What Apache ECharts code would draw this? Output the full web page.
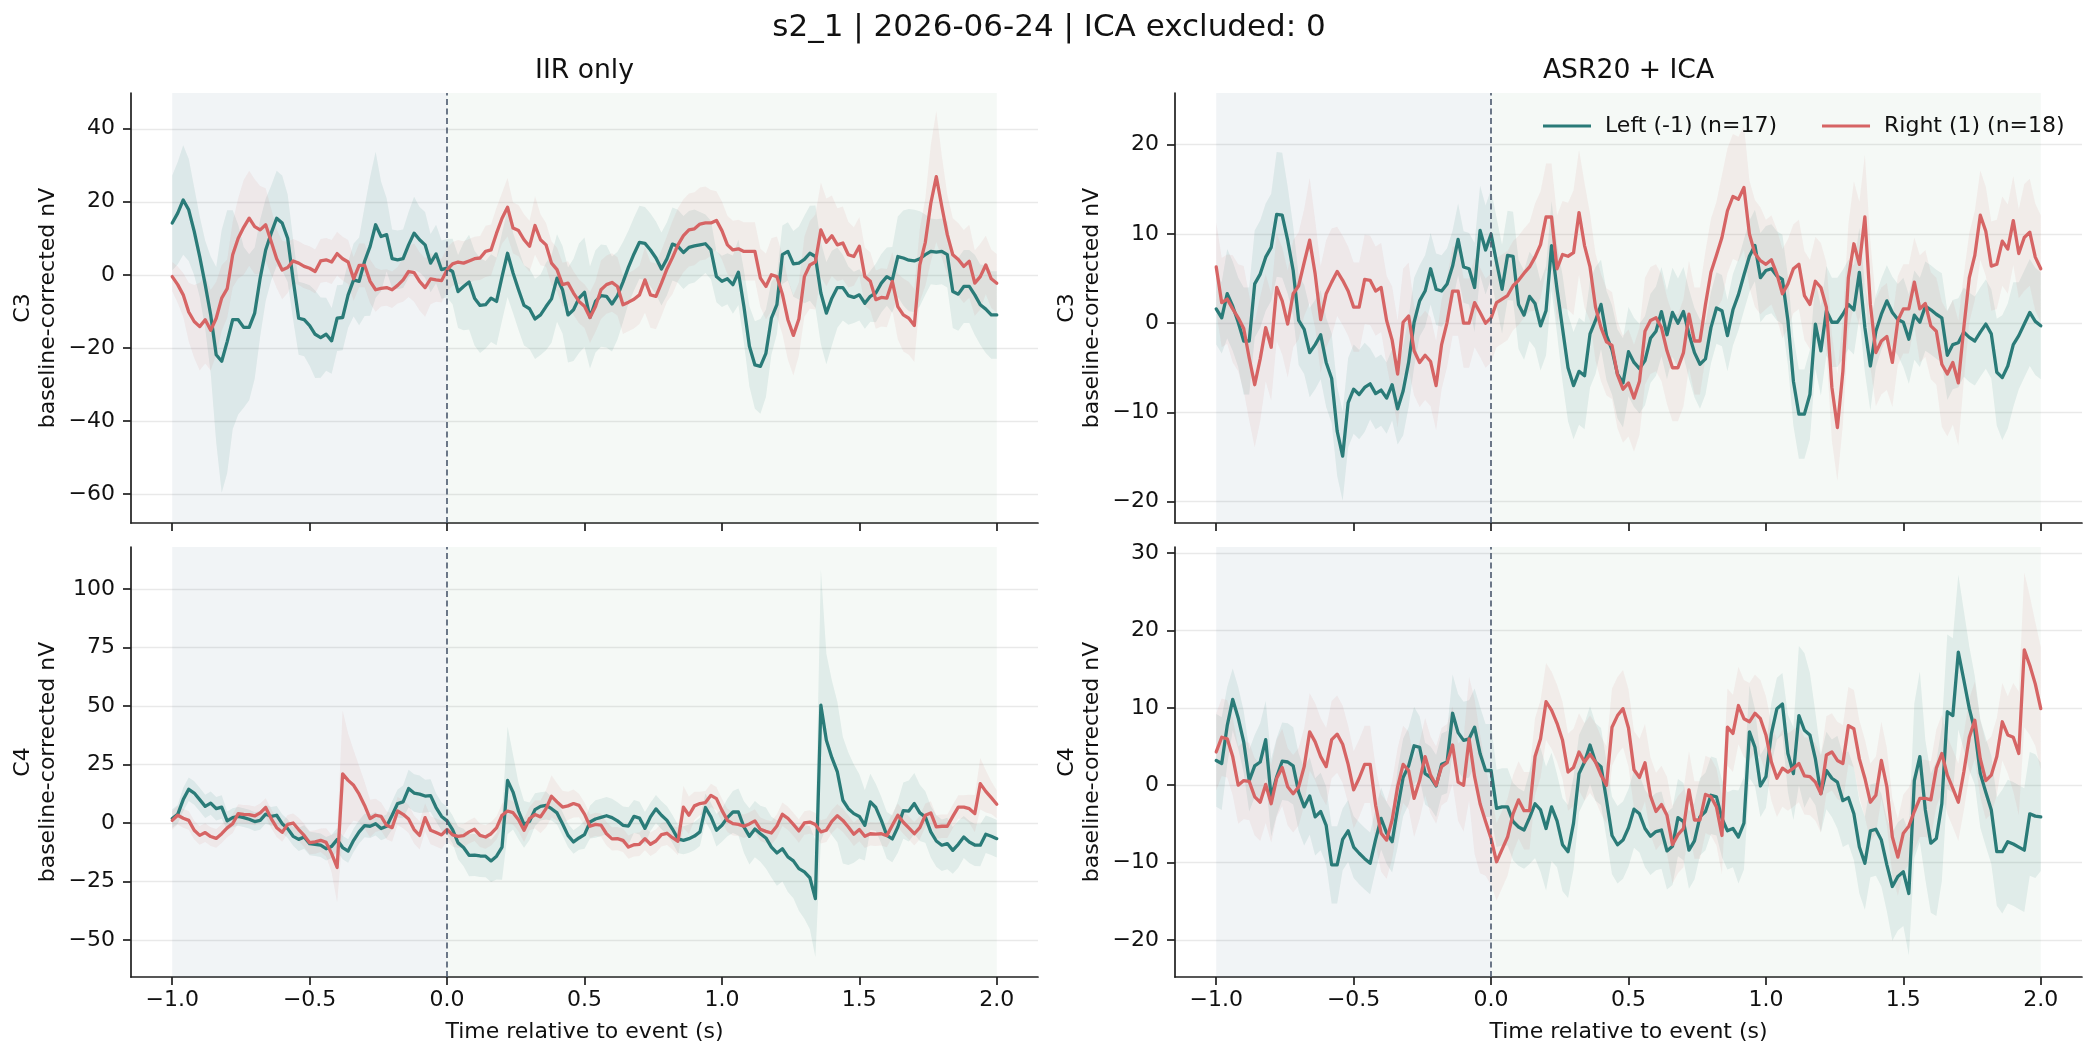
<!DOCTYPE html>
<html lang="en">
<head>
  <meta charset="UTF-8" />
  <title>s2_1 | 2026-06-24 | ICA excluded: 0</title>
  <script src="https://cdn.jsdelivr.net/npm/echarts@6.0.0/dist/echarts.min.js"></script>
  <style>
    html, body { margin: 0; padding: 0; background: #ffffff; }
    #main { width: 2098px; height: 1058px; }
  </style>
</head>
<body>
<div id="main"></div>
<script>
// sample times, -1.0 .. 2.0 s every 20 ms
const times = Array.from({ length: 151 }, (_, i) => Math.round((-1 + i * 0.02) * 100) / 100);

const xTicks = [-1, -0.5, 0, 0.5, 1, 1.5, 2];
const yTicksIirC3 = [-60, -40, -20, 0, 20, 40];
const yTicksAsrC3 = [-20, -10, 0, 10, 20];
const yTicksIirC4 = [-50, -25, 0, 25, 50, 75, 100];
const yTicksAsrC4 = [-20, -10, 0, 10, 20, 30];

// IIR only, C3
const iirC3Left = [
  14.2, 16.9, 20.5, 17.8, 11.9, 5.0, -2.7, -11.0, -21.9, -23.7,
  -18.3, -12.3, -12.3, -14.4, -14.4, -10.5, -0.9, 6.8, 11.4, 15.5,
  14.2, 10.0, -1.4, -11.9, -12.3, -13.9, -16.3, -17.2, -16.3, -18.1,
  -11.9, -11.7, -5.5, -1.4, -1.8, 3.7, 7.8, 13.7, 10.5, 11.0,
  4.4, 4.1, 4.4, 8.2, 11.4, 9.6, 8.2, 3.2, 5.7, 1.4,
  1.8, 0.9, -4.6, -3.2, -2.0, -6.4, -8.4, -8.2, -6.4, -7.3,
  -0.5, 5.9, 0.5, -4.1, -8.4, -9.3, -12.1, -11.0, -8.7, -6.6,
  -0.9, -4.1, -11.0, -9.6, -6.4, -4.8, -11.7, -7.3, -5.7, -5.9,
  -8.0, -5.7, -2.0, 2.1, 5.7, 8.9, 8.6, 6.8, 4.6, 1.6,
  4.4, 8.4, 7.8, 6.1, 7.5, 7.9, 8.2, 8.5, 6.8, -0.5,
  -1.8, -1.1, -2.7, 0.7, -8.7, -19.6, -24.7, -25.1, -21.5, -11.9,
  -8.2, 5.5, 6.4, 3.0, 3.2, 4.2, 5.9, 5.0, -5.0, -10.5,
  -6.4, -3.5, -3.5, -5.7, -6.2, -5.5, -7.8, -5.9, -5.0, -2.3,
  -0.5, -1.4, 5.0, 4.6, 4.0, 3.8, 4.4, 5.5, 6.4, 6.2,
  6.4, 5.5, -4.6, -5.3, -3.2, -3.2, -5.5, -8.2, -9.4, -11.0,
  -11.0
];
const iirC3LeftSem = [
  13, 14, 15, 14, 12, 11, 12, 16, 24, 36, 36, 30, 26, 22, 20, 18, 16, 14, 13, 13,
  13, 12, 11, 10, 10, 11, 12, 11, 10, 9, 9, 9, 9, 10, 12, 15, 19, 20, 15, 10,
  8, 8, 8, 9, 10, 9, 9, 8, 8, 8, 8, 9, 10, 12, 13, 13, 13, 12, 12, 12,
  12, 12, 11, 11, 11, 11, 11, 11, 12, 12, 12, 12, 13, 14, 15, 15, 14, 14, 14, 14,
  13, 12, 11, 10, 10, 10, 10, 10, 10, 10, 10, 10, 10, 10, 10, 10, 9, 8, 8, 7,
  7, 7, 8, 9, 10, 11, 12, 13, 12, 10, 8, 8, 8, 9, 10, 12, 13, 14, 14, 14,
  13, 11, 9, 8, 7, 7, 7, 7, 8, 8, 8, 9, 11, 13, 14, 14, 13, 11, 9, 9,
  9, 9, 10, 10, 10, 10, 11, 11, 12, 12, 12
];
const iirC3Right = [
  -0.5, -2.7, -5.5, -10.2, -12.8, -14.2, -12.3, -15.2, -11.9, -6.4,
  -3.8, 5.5, 10.0, 13.0, 15.5, 13.2, 12.3, 13.7, 9.1, 4.4,
  1.3, 2.0, 3.8, 3.2, 2.3, 1.8, 0.9, 3.8, 4.1, 3.5,
  5.8, 4.4, 3.5, -1.1, 2.6, 2.6, -1.8, -4.1, -3.7, -3.5,
  -4.1, -2.9, -1.4, 0.9, 0.6, -1.8, -3.5, -1.1, -1.4, -1.6,
  1.4, 3.0, 3.5, 3.2, 3.8, 4.4, 4.6, 6.4, 6.8, 11.4,
  15.5, 18.5, 12.8, 12.1, 9.6, 7.8, 13.5, 9.6, 8.2, 3.2,
  1.4, -2.7, -2.3, -5.0, -7.3, -8.6, -11.7, -8.7, -4.1, -2.7,
  -2.1, -3.2, -8.2, -7.5, -6.7, -5.5, -1.4, -5.5, -5.9, -2.3,
  1.6, 4.7, 8.2, 10.7, 12.3, 12.6, 13.9, 14.2, 14.2, 14.9,
  12.1, 8.2, 6.8, 7.1, 6.4, 6.4, 6.4, -0.9, -3.2, 0.0,
  -0.5, -5.3, -12.3, -16.6, -12.1, -0.5, 2.7, 3.5, 12.3, 8.9,
  10.7, 8.2, 8.7, 5.5, 5.0, 7.8, -0.5, -1.8, -6.8, -6.2,
  -6.4, -1.8, -8.7, -11.0, -11.9, -13.9, 2.7, 8.9, 19.6, 26.9,
  18.7, 11.0, 5.5, 4.2, 2.3, 3.7, -2.3, -0.5, 2.7, -1.1,
  -2.3
];
const iirC3RightSem = [
  4, 5, 6, 8, 10, 12, 12, 11, 10, 9, 8, 9, 11, 13, 13, 13, 12, 10, 9, 8,
  8, 7, 6, 6, 6, 6, 6, 6, 6, 6, 6, 6, 6, 6, 6, 6, 6, 6, 5, 5,
  5, 5, 6, 7, 8, 8, 8, 7, 6, 6, 6, 6, 6, 6, 6, 6, 6, 7, 7, 7,
  7, 8, 7, 7, 7, 7, 8, 7, 6, 6, 6, 6, 6, 6, 6, 6, 7, 7, 8, 8,
  8, 8, 8, 8, 8, 8, 9, 9, 9, 9, 9, 10, 10, 10, 10, 10, 10, 10, 9, 8,
  8, 8, 8, 8, 8, 8, 8, 8, 9, 10, 11, 11, 11, 11, 10, 11, 12, 13, 13, 12,
  11, 10, 10, 9, 8, 8, 8, 8, 8, 8, 8, 8, 9, 10, 10, 10, 10, 12, 16, 18,
  14, 11, 10, 10, 10, 10, 9, 9, 8, 8, 8
];

// ASR20 + ICA, C3
const asrC3Left = [
  1.6, 0.6, 3.3, 1.9, 0.1, -2.0, -2.0, 4.4, 5.5, 7.4,
  8.5, 12.2, 12.1, 9.3, 5.9, 0.3, -0.7, -3.3, -2.4, -1.3,
  -4.4, -6.2, -12.1, -14.9, -8.9, -7.4, -8.0, -7.2, -6.8, -7.9,
  -7.5, -8.4, -6.9, -9.6, -7.6, -4.4, 0.1, 2.5, 3.6, 6.1,
  3.8, 3.6, 4.4, 6.4, 9.4, 6.3, 6.1, 4.0, 10.4, 8.2,
  10.0, 6.8, 3.8, 7.6, 7.5, 2.1, 0.9, 3.0, 2.2, -0.3,
  1.4, 8.7, 3.8, -0.6, -5.0, -7.0, -5.4, -5.9, -1.2, 0.3,
  2.1, -1.4, -3.0, -5.7, -6.7, -3.2, -4.4, -5.1, -4.2, -1.7,
  -0.9, 1.3, -1.3, 1.2, 0.0, 1.3, -1.2, -3.3, -4.6, -4.0,
  -0.5, 1.7, 1.4, -1.4, 1.5, 3.2, 5.4, 7.5, 8.7, 5.1,
  5.9, 6.1, 5.3, 4.9, 0.3, -6.5, -10.2, -10.2, -8.0, -0.1,
  -3.1, 1.4, 0.1, 0.1, 1.0, 2.1, 1.5, 5.7, -0.5, -4.8,
  -0.9, 1.0, 2.5, 1.2, 0.4, 0.1, -1.8, 0.9, 0.1, 1.9,
  1.5, 1.0, 0.6, -3.6, -2.4, -2.2, -1.0, -1.6, -2.0, -1.0,
  -0.1, -1.2, -5.5, -6.1, -4.8, -2.4, -1.4, -0.1, 1.2, 0.2,
  -0.3
];
const asrC3LeftSem = [
  4, 4, 5, 5, 5, 6, 6, 6, 6, 6, 6, 7, 7, 6, 5, 5, 5, 5, 5, 5,
  5, 5, 5, 5, 5, 5, 5, 5, 4, 4, 4, 4, 4, 4, 5, 5, 5, 4, 4, 4,
  4, 4, 4, 4, 4, 4, 4, 5, 5, 5, 5, 5, 5, 5, 5, 5, 5, 5, 5, 5,
  5, 5, 5, 6, 6, 6, 6, 6, 6, 6, 5, 5, 5, 5, 5, 5, 5, 5, 5, 5,
  5, 5, 5, 5, 5, 5, 5, 5, 5, 4, 4, 4, 4, 4, 4, 4, 4, 4, 4, 5,
  5, 5, 5, 5, 5, 5, 5, 5, 5, 5, 5, 5, 5, 5, 5, 5, 5, 5, 5, 5,
  4, 4, 4, 4, 4, 5, 5, 5, 5, 5, 5, 5, 5, 5, 5, 5, 5, 5, 5, 5,
  5, 5, 6, 7, 7, 7, 6, 6, 6, 6, 6
];
const asrC3Right = [
  6.3, 2.3, 2.7, 1.6, 0.6, -0.6, -3.9, -6.9, -4.0, -0.5,
  -2.7, 4.0, 2.5, -0.1, 3.3, 4.2, 6.8, 9.3, 5.5, 0.4,
  3.3, 4.6, 5.8, 4.8, 3.6, 1.8, 1.8, 4.9, 4.8, 3.6,
  4.0, 0.3, -1.9, -5.7, 0.1, 0.8, -3.1, -4.4, -3.6, -4.3,
  -7.0, -2.4, 0.1, 3.6, 3.6, 0.0, 0.0, 2.3, 1.2, 0.0,
  0.6, 2.3, 2.7, 3.1, 4.2, 4.8, 5.6, 6.3, 7.4, 8.8,
  11.9, 11.9, 6.1, 7.7, 7.5, 7.9, 12.4, 8.7, 6.3, 1.8,
  -0.5, -2.1, -2.5, -5.8, -7.4, -6.7, -8.4, -6.5, -0.9, 0.3,
  0.6, -0.5, -3.1, -5.0, -5.0, -3.3, 1.0, -2.0, -2.0, 2.1,
  5.7, 7.6, 9.6, 12.6, 14.2, 13.9, 15.2, 10.0, 7.8, 7.0,
  6.6, 7.1, 5.5, 3.3, 4.4, 6.1, 6.6, 3.1, 2.1, 4.7,
  4.0, 1.8, -7.2, -11.7, -5.4, 5.1, 8.9, 6.6, 11.9, 2.1,
  -3.3, -2.0, -1.5, -4.4, 0.3, 1.6, 1.6, 4.6, 1.6, 2.2,
  -0.3, -0.9, -4.6, -5.7, -4.4, -6.7, -0.5, 5.1, 7.6, 12.1,
  10.3, 6.4, 6.6, 9.2, 8.3, 11.5, 7.8, 9.6, 10.2, 7.4,
  6.1
];
const asrC3RightSem = [
  5, 5, 5, 6, 6, 7, 7, 7, 7, 6, 6, 6, 6, 6, 6, 6, 6, 7, 6, 6,
  6, 6, 5, 5, 5, 5, 5, 5, 5, 5, 5, 5, 6, 6, 6, 6, 5, 5, 5, 5,
  5, 5, 5, 5, 5, 5, 5, 5, 5, 5, 5, 5, 5, 5, 5, 5, 5, 5, 6, 6,
  6, 6, 6, 6, 6, 7, 7, 7, 6, 6, 6, 6, 6, 6, 6, 6, 6, 6, 6, 6,
  6, 6, 6, 6, 6, 6, 6, 6, 6, 6, 6, 6, 7, 7, 7, 7, 7, 6, 6, 6,
  5, 5, 5, 5, 5, 5, 5, 5, 5, 5, 5, 5, 6, 6, 6, 6, 7, 7, 7, 7,
  6, 6, 6, 5, 5, 5, 5, 5, 6, 6, 6, 6, 7, 7, 7, 7, 6, 5, 5, 5,
  5, 5, 5, 5, 5, 5, 5, 6, 6, 6, 6
];

// IIR only, C4
const iirC4Left = [
  1.9, 3.7, 10.0, 14.4, 12.8, 10.0, 7.1, 8.5, 6.1, 6.8,
  0.9, 2.3, 2.8, 2.3, 1.6, 0.6, 1.1, 3.8, 2.8, 3.3,
  -0.3, -2.4, -5.7, -7.0, -6.0, -8.8, -9.1, -9.5, -11.0, -10.0,
  -7.1, -10.5, -12.0, -7.4, -3.8, -1.1, -1.4, -0.3, -2.4, -1.4,
  3.3, 8.3, 9.0, 14.7, 12.8, 12.3, 11.5, 11.7, 6.6, 2.8,
  0.9, -2.8, -8.5, -10.5, -13.8, -13.7, -14.1, -14.2, -16.2, -14.2,
  -10.3, 18.2, 13.2, 5.1, -0.6, 0.7, 5.7, 7.1, 7.5, 6.1,
  4.3, -0.3, -5.3, -8.1, -6.4, -5.0, 0.4, 1.7, 2.4, 3.1,
  2.3, 0.9, -1.0, -1.3, 2.8, 2.1, -2.3, 2.6, 6.0, 3.3,
  1.1, -2.6, -6.8, -7.4, -6.7, -5.6, -3.8, 6.6, 2.6, -3.1,
  -1.0, 2.3, 4.7, 4.7, -1.7, -5.7, -2.6, -4.6, -6.4, -10.3,
  -12.8, -11.0, -14.5, -16.2, -19.5, -20.9, -23.4, -32.3, 50.3, 35.3,
  27.9, 21.8, 9.7, 6.1, 4.0, 2.8, -1.0, 9.0, 6.6, 1.1,
  -5.3, -6.8, -1.7, 5.3, 5.1, 8.3, 4.3, 2.6, -3.8, -7.7,
  -9.5, -8.8, -11.7, -9.1, -6.0, -8.1, -9.4, -9.5, -4.8, -5.7,
  -6.7
];
const iirC4LeftSem = [
  4, 4, 5, 5, 5, 5, 5, 5, 5, 5, 4, 4, 4, 4, 4, 4, 4, 4, 4, 4,
  4, 4, 4, 5, 5, 5, 5, 5, 5, 5, 5, 5, 5, 5, 5, 5, 5, 5, 5, 5,
  6, 6, 7, 8, 8, 8, 7, 7, 6, 6, 6, 6, 7, 8, 9, 9, 9, 9, 9, 10,
  14, 23, 16, 12, 10, 8, 7, 6, 6, 5, 5, 5, 5, 5, 5, 6, 7, 8, 8, 8,
  8, 8, 8, 8, 7, 7, 7, 6, 6, 6, 6, 6, 6, 6, 6, 6, 6, 6, 6, 7,
  7, 8, 9, 10, 11, 12, 12, 12, 13, 13, 14, 14, 15, 16, 18, 20, 22, 25, 58, 37,
  33, 30, 27, 24, 21, 18, 15, 12, 10, 10, 10, 10, 11, 12, 13, 13, 12, 11, 11, 11,
  11, 11, 10, 10, 9, 9, 9, 9, 8, 8, 8
];
const iirC4Right = [
  1.1, 3.3, 2.0, 1.1, -3.1, -5.3, -4.1, -5.8, -6.6, -4.6,
  -2.1, -0.3, 4.0, 3.7, 3.6, 3.0, 4.3, 6.6, 1.9, -2.0,
  -4.0, -0.6, 0.0, -2.8, -5.3, -8.4, -8.1, -7.4, -8.3, -13.1,
  -19.0, 21.0, 18.2, 16.1, 12.3, 7.5, 1.9, 3.3, 2.8, -1.0,
  -2.0, 5.1, 3.7, 1.7, -2.8, -5.3, 2.3, -3.1, -4.1, -5.1,
  -2.8, -5.1, -5.7, -5.4, -3.8, -2.7, -5.3, -6.0, -4.6, -2.1,
  3.3, 5.1, 4.4, 1.4, -3.1, 1.9, 3.6, 2.6, 6.1, 11.4,
  9.0, 6.8, 7.3, 8.3, 7.5, 3.8, -1.4, -0.6, -0.9, -4.6,
  -6.8, -6.7, -7.4, -10.3, -9.3, -9.1, -6.7, -9.1, -7.7, -5.0,
  -4.4, -6.3, -7.8, 6.8, 3.3, 7.3, 8.3, 8.7, 11.8, 10.4,
  5.4, 1.1, -0.3, -0.6, -1.4, -0.4, 0.9, -2.7, -3.6, -4.3,
  -1.3, 3.7, 2.0, -0.6, -3.4, 0.0, 0.4, -0.7, -3.8, -3.1,
  0.7, 3.1, 1.1, -1.7, -4.8, -2.8, -5.7, -4.6, -4.8, -4.6,
  -5.4, -1.0, 3.3, 0.3, -2.1, -4.6, -2.0, 3.3, 4.3, -1.7,
  -1.4, -1.4, 2.8, 6.8, 6.8, 6.1, 4.0, 16.8, 13.5, 10.8,
  8.0
];
const iirC4RightSem = [
  4, 4, 4, 4, 4, 4, 4, 4, 4, 4, 4, 4, 4, 4, 4, 4, 4, 4, 4, 4,
  4, 4, 4, 5, 5, 5, 5, 5, 6, 8, 15, 27, 20, 15, 12, 10, 8, 7, 6, 6,
  6, 6, 6, 6, 6, 6, 6, 6, 6, 6, 5, 5, 5, 5, 5, 5, 5, 5, 5, 5,
  5, 5, 5, 5, 5, 5, 6, 7, 8, 9, 8, 7, 6, 6, 5, 5, 5, 5, 5, 5,
  5, 5, 5, 5, 5, 5, 5, 5, 5, 5, 5, 5, 6, 9, 8, 6, 5, 5, 5, 5,
  5, 5, 5, 5, 5, 5, 5, 5, 5, 5, 5, 5, 5, 5, 5, 5, 5, 5, 5, 5,
  5, 5, 5, 5, 5, 5, 5, 5, 5, 5, 5, 5, 5, 5, 5, 5, 5, 5, 5, 5,
  5, 5, 5, 5, 5, 6, 8, 11, 9, 7, 6
];

// ASR20 + ICA, C4
const asrC4Left = [
  3.2, 2.8, 7.7, 11.1, 8.7, 5.6, 0.6, 2.5, 3.0, 5.9,
  -1.6, 1.1, 3.1, 3.0, 2.5, -0.9, -2.8, -1.4, -4.1, -3.4,
  -5.2, -10.3, -10.3, -7.0, -5.9, -8.0, -8.8, -9.5, -10.1, -7.0,
  -4.3, -6.2, -7.3, -3.0, 1.0, 2.5, 5.1, 4.9, 1.5, 1.0,
  -0.1, 2.7, 3.0, 9.3, 6.8, 5.8, 6.0, 7.5, 4.1, 1.9,
  1.9, -3.0, -2.8, -2.8, -4.7, -5.4, -5.8, -4.2, -2.4, -3.2,
  -5.6, -2.8, -4.6, -7.7, -8.6, -4.9, 1.5, 3.0, 5.2, 3.0,
  2.4, -1.9, -6.5, -7.7, -7.1, -5.5, -3.1, -3.7, -5.6, -6.6,
  -6.0, -5.8, -8.5, -7.9, -4.2, -4.7, -8.4, -7.2, -4.1, -3.4,
  -1.3, -1.5, -4.3, -5.9, -5.6, -6.7, -4.9, 6.9, 4.9, -0.1,
  1.1, 6.7, 9.9, 10.5, 4.1, 1.5, 9.0, 7.1, 6.5, 3.4,
  -1.1, 1.9, 0.9, 0.4, -2.0, -1.6, -3.7, -8.0, -10.1, -5.9,
  -5.7, -7.1, -10.3, -13.1, -11.8, -11.2, -14.0, 0.6, 3.7, -3.2,
  -7.5, -6.9, -2.4, 9.5, 9.0, 17.2, 13.6, 9.9, 7.1, 1.5,
  -0.9, -3.2, -8.6, -8.6, -7.3, -7.6, -8.0, -8.4, -3.7, -4.0,
  -4.1
];
const asrC4LeftSem = [
  6, 6, 5, 4, 4, 4, 4, 4, 5, 5, 5, 5, 5, 5, 5, 5, 5, 5, 5, 5,
  5, 5, 5, 4, 4, 4, 4, 4, 4, 4, 4, 4, 4, 5, 5, 5, 5, 4, 4, 4,
  4, 4, 4, 5, 5, 5, 5, 5, 6, 6, 6, 5, 5, 5, 5, 5, 5, 6, 7, 8,
  8, 7, 6, 6, 6, 6, 5, 5, 5, 5, 5, 5, 5, 5, 5, 5, 5, 5, 5, 5,
  5, 5, 5, 5, 5, 5, 5, 5, 5, 5, 5, 5, 5, 5, 5, 6, 6, 6, 5, 4,
  4, 4, 4, 4, 5, 6, 9, 10, 8, 6, 5, 5, 5, 6, 6, 6, 6, 6, 6, 6,
  6, 6, 6, 7, 7, 7, 8, 10, 11, 9, 9, 10, 10, 10, 10, 10, 9, 8, 7, 7,
  7, 7, 7, 8, 8, 8, 8, 8, 8, 8, 7
];
const asrC4Right = [
  4.3, 6.2, 6.0, 3.7, 0.0, 0.6, 0.5, -1.5, -2.2, 0.1,
  -2.4, 0.9, 2.3, -0.2, -1.1, -0.2, 2.4, 6.9, 5.6, 3.7,
  2.4, 5.9, 6.6, 5.3, 2.7, -0.6, 0.9, 2.7, 2.7, -2.6,
  -6.2, -7.1, -4.5, -0.2, 2.7, 1.9, -1.7, 0.6, 3.7, 1.3,
  0.0, 2.4, 2.9, 5.2, 0.4, 0.0, 6.0, 1.1, -2.4, -4.7,
  -6.9, -9.9, -8.3, -6.7, -3.7, -1.9, -3.3, -3.3, 3.7, 6.0,
  10.8, 9.7, 8.0, 5.8, 1.7, 2.3, 4.3, 3.0, 4.0, 3.0,
  1.3, 0.0, 7.5, 9.0, 9.9, 7.4, 2.0, 1.0, 2.9, -1.4,
  -3.4, -2.5, -3.9, -7.7, -6.4, -5.6, -0.6, -4.5, -4.5, -1.2,
  -1.5, -2.8, -6.5, 7.5, 6.7, 10.3, 8.6, 8.2, 9.3, 8.6,
  6.5, 3.0, 0.9, 2.2, 1.7, 2.2, 2.8, 1.2, 1.1, 0.4,
  -1.1, 3.9, 4.3, 3.2, 2.8, 7.7, 7.3, 3.4, 0.9, -2.2,
  -1.3, 3.2, -0.2, -6.7, -9.3, -6.2, -5.3, -3.4, -1.7, -1.7,
  -1.9, 2.2, 4.1, 1.3, -0.4, -2.2, 1.7, 6.2, 8.4, 3.4,
  0.6, 1.3, 3.7, 8.2, 6.5, 6.2, 4.1, 17.5, 15.5, 13.1,
  9.9
];
const asrC4RightSem = [
  5, 5, 5, 5, 5, 5, 5, 5, 5, 5, 5, 5, 5, 5, 5, 5, 5, 5, 5, 5,
  5, 5, 5, 5, 5, 5, 5, 5, 5, 5, 5, 5, 5, 5, 5, 5, 5, 5, 5, 5,
  5, 5, 5, 5, 5, 6, 8, 10, 9, 7, 6, 5, 5, 5, 5, 5, 5, 5, 5, 5,
  5, 5, 5, 5, 5, 5, 5, 5, 5, 5, 5, 5, 5, 5, 5, 5, 5, 5, 5, 5,
  5, 5, 5, 5, 5, 5, 5, 5, 5, 5, 5, 5, 5, 5, 5, 5, 5, 5, 5, 5,
  5, 5, 5, 5, 5, 5, 5, 5, 5, 5, 5, 5, 5, 5, 5, 5, 5, 5, 5, 5,
  5, 5, 5, 5, 5, 5, 5, 5, 5, 5, 5, 5, 5, 5, 5, 5, 5, 5, 5, 5,
  5, 5, 5, 5, 5, 7, 8, 10, 9, 8, 8
];

const FONT = 'DejaVu Sans';
const INK = '#111111';
const TEAL = '#2a7b78';
const RED = '#d66464';
const TEAL_BAND = 'rgba(42,123,120,0.10)';
const RED_BAND = 'rgba(214,100,100,0.085)';
const PRE_SPAN = 'rgba(95,128,150,0.085)';
const POST_SPAN = 'rgba(100,160,120,0.065)';
const LEFT_NAME = 'Left (-1) (n=17)';
const RIGHT_NAME = 'Right (1) (n=18)';

const panels = [
  { left: iirC3Left, leftSem: iirC3LeftSem, right: iirC3Right, rightSem: iirC3RightSem,
    yMin: -68, yMax: 49.8, yTicks: yTicksIirC3, channel: 'C3', box: [131, 93] },
  { left: asrC3Left, leftSem: asrC3LeftSem, right: asrC3Right, rightSem: asrC3RightSem,
    yMin: -22.4, yMax: 25.8, yTicks: yTicksAsrC3, channel: 'C3', box: [1175, 93] },
  { left: iirC4Left, leftSem: iirC4LeftSem, right: iirC4Right, rightSem: iirC4RightSem,
    yMin: -65.8, yMax: 117.9, yTicks: yTicksIirC4, channel: 'C4', box: [131, 547] },
  { left: asrC4Left, leftSem: asrC4LeftSem, right: asrC4Right, rightSem: asrC4RightSem,
    yMin: -24.8, yMax: 30.8, yTicks: yTicksAsrC4, channel: 'C4', box: [1175, 547] }
];

function signed(v, digits) {
  const s = Math.abs(v).toFixed(digits);
  return v < 0 ? '\u2212' + s : s;
}

const spine = { color: '#1f1f1f', width: 1.7 };

const grid = panels.map(p => ({ left: p.box[0], top: p.box[1], width: 907, height: 430 }));

const xAxis = panels.map((p, g) => {
  const bottomRow = g >= 2;
  return {
    type: 'value', gridIndex: g, min: -1.15, max: 2.15,
    axisLine: { show: true, onZero: false, lineStyle: spine },
    axisTick: { show: true, length: 8, lineStyle: spine, customValues: xTicks },
    axisLabel: {
      show: bottomRow, customValues: xTicks, margin: 12,
      formatter: v => signed(v, 1),
      fontFamily: FONT, fontSize: 22, color: INK
    },
    splitLine: { show: false },
    name: bottomRow ? 'Time relative to event (s)' : '',
    nameLocation: 'middle', nameGap: 44,
    nameTextStyle: { fontFamily: FONT, fontSize: 22, color: INK }
  };
});

const yAxis = panels.map((p, g) => ({
  type: 'value', gridIndex: g, min: p.yMin, max: p.yMax,
  axisLine: { show: true, onZero: false, lineStyle: spine },
  axisTick: { show: true, length: 8, lineStyle: spine, customValues: p.yTicks },
  axisLabel: {
    customValues: p.yTicks, margin: 16,
    formatter: v => signed(v, 0),
    fontFamily: FONT, fontSize: 22, color: INK
  },
  splitLine: { show: true, lineStyle: { color: '#e9e9e9', width: 1.3 } },
  name: p.channel + '\nbaseline-corrected nV',
  nameLocation: 'middle', nameGap: 70,
  nameTextStyle: { fontFamily: FONT, fontSize: 22, color: INK, lineHeight: 25 }
}));

// mean +/- sem as one filled polygon, placed through the axis scales
function bandSeries(g, mean, sem, color) {
  return {
    type: 'custom', xAxisIndex: g, yAxisIndex: g, silent: true, z: 2,
    data: [[0, 0]],
    renderItem: (params, api) => {
      const upper = mean.map((m, i) => api.coord([times[i], m + sem[i]]));
      const lower = mean.map((m, i) => api.coord([times[i], m - sem[i]])).reverse();
      return {
        type: 'polygon',
        shape: { points: upper.concat(lower) },
        style: { fill: color, stroke: null }
      };
    }
  };
}

function meanSeries(g, name, mean, color) {
  return {
    name: name, type: 'line', xAxisIndex: g, yAxisIndex: g,
    data: mean.map((m, i) => [times[i], m]),
    symbol: 'none', showSymbol: false, silent: true, z: 3,
    color: color, lineStyle: { width: 3.3, color: color, cap: 'round', join: 'round' }
  };
}

// holds the baseline / post-event shading and the event marker
function frameSeries(g) {
  return {
    type: 'line', xAxisIndex: g, yAxisIndex: g, silent: true, z: 0,
    data: [[-1, 0]], symbol: 'none', showSymbol: false,
    lineStyle: { opacity: 0 },
    markArea: {
      silent: true,
      data: [
        [{ xAxis: -1, itemStyle: { color: PRE_SPAN, opacity: 1 } }, { xAxis: 0 }],
        [{ xAxis: 0, itemStyle: { color: POST_SPAN, opacity: 1 } }, { xAxis: 2 }]
      ]
    },
    markLine: {
      silent: true, symbol: ['none', 'none'], label: { show: false },
      lineStyle: { color: '#4a586c', width: 1.6, type: [6, 3.5] },
      data: [{ xAxis: 0 }]
    }
  };
}

const series = [];
panels.forEach((p, g) => {
  series.push(frameSeries(g));
  series.push(bandSeries(g, p.left, p.leftSem, TEAL_BAND));
  series.push(bandSeries(g, p.right, p.rightSem, RED_BAND));
  series.push(meanSeries(g, LEFT_NAME, p.left, TEAL));
  series.push(meanSeries(g, RIGHT_NAME, p.right, RED));
});

const chart = echarts.init(document.getElementById('main'));
chart.setOption({
  animation: false,
  backgroundColor: '#ffffff',
  textStyle: { fontFamily: FONT },
  graphic: [
    { type: 'text', x: 1049, y: 28, style: { text: 's2_1 | 2026-06-24 | ICA excluded: 0', fontFamily: FONT, fontSize: 31, fill: INK, align: 'center', verticalAlign: 'middle' } },
    { type: 'text', x: 584.5, y: 71, style: { text: 'IIR only', fontFamily: FONT, fontSize: 26.6, fill: INK, align: 'center', verticalAlign: 'middle' } },
    { type: 'text', x: 1628.5, y: 71, style: { text: 'ASR20 + ICA', fontFamily: FONT, fontSize: 26.6, fill: INK, align: 'center', verticalAlign: 'middle' } }
  ],
  legend: {
    data: [LEFT_NAME, RIGHT_NAME],
    left: 1538, top: 110,
    icon: 'rect', itemWidth: 48, itemHeight: 3, itemGap: 45,
    selectedMode: false,
    textStyle: { fontFamily: FONT, fontSize: 22, color: INK, padding: [0, 0, 0, 9] }
  },
  grid: grid,
  xAxis: xAxis,
  yAxis: yAxis,
  series: series
});

window.addEventListener('resize', () => chart.resize());
</script>
</body>
</html>
